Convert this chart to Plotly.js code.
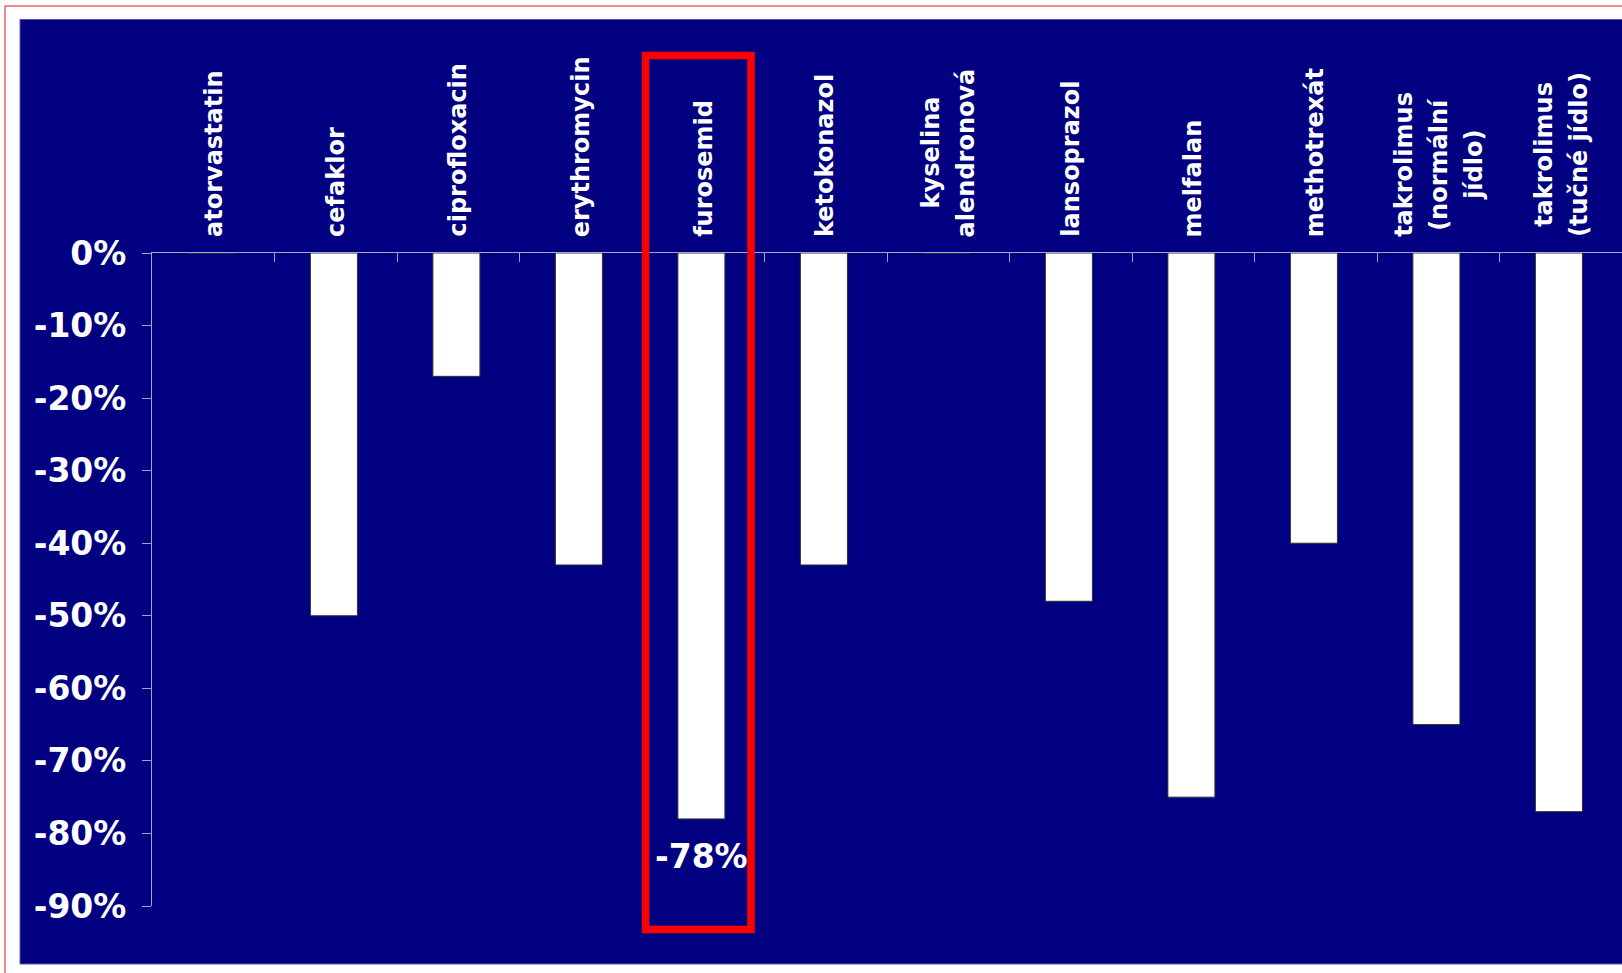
<!DOCTYPE html>
<html>
<head>
<meta charset="utf-8">
<script src="https://cdn.plot.ly/plotly-3.0.1.min.js"></script>
<style>
  html, body { margin: 0; padding: 0; background: #ffffff; }
  #chart { width: 1622px; height: 973px; }
</style>
</head>
<body>
<div id="chart"></div>
<script>
// Drugs and the change in absorption when taken with food (%)
const drugs = [
  'atorvastatin', 'cefaklor', 'ciprofloxacin', 'erythromycin', 'furosemid',
  'ketokonazol', 'kyselina alendronová', 'lansoprazol', 'melfalan',
  'methotrexát', 'takrolimus (normální jídlo)', 'takrolimus (tučné jídlo)'
];
const drugLabelLines = [
  ['atorvastatin'], ['cefaklor'], ['ciprofloxacin'], ['erythromycin'], ['furosemid'],
  ['ketokonazol'], ['kyselina', 'alendronová'], ['lansoprazol'], ['melfalan'],
  ['methotrexát'], ['takrolimus', '(normální', 'jídlo)'], ['takrolimus', '(tučné jídlo)']
];
const changePct = [0, -50, -17, -43, -78, -43, 0, -48, -75, -40, -65, -77];
const yTickValues = [0, -10, -20, -30, -40, -50, -60, -70, -80, -90];
const highlightedDrug = 'furosemid';

const W = 1622, H = 973;
const M = { l: 152, r: 0, t: 253, b: 67 };
const plotW = W - M.l - M.r, plotH = H - M.t - M.b;
// page pixel -> paper fraction helpers for the frame decorations
const px = x => (x - M.l) / plotW;
const py = y => (H - M.b - y) / plotH;

const NAVY = '#000080';
const AXIS = '#a4a4cc';
const FONT = 'DejaVu Sans';

const labelFont = { family: FONT, size: 24, color: '#ffffff', weight: 700 };
const measureCtx = document.createElement('canvas').getContext('2d');
measureCtx.font = `bold ${labelFont.size}px "${FONT}"`;

const annotations = [];
// category names above the zero line, rotated, lines centred on each other
const linePitch = 35;
drugs.forEach((d, i) => {
  const lines = drugLabelLines[i];
  const maxW = Math.max(...lines.map(s => measureCtx.measureText(s).width));
  lines.forEach((s, j) => {
    annotations.push({
      x: d, xref: 'x', y: 1, yref: 'paper',
      text: s, showarrow: false, textangle: -90,
      xanchor: 'center', yanchor: 'middle',
      xshift: (j - (lines.length - 1) / 2) * linePitch,
      yshift: 16 + maxW / 2,
      font: labelFont
    });
  });
});

// value label under the highlighted bar
const hi = drugs.indexOf(highlightedDrug);
annotations.push({
  x: highlightedDrug, xref: 'x', y: changePct[hi], yref: 'y',
  text: changePct[hi] + '%', showarrow: false,
  xanchor: 'center', yanchor: 'top', yshift: -16, xshift: -2,
  font: { family: FONT, size: 33, color: '#ffffff', weight: 700 }
});

const shapes = [
  // page frame
  { type: 'rect', xref: 'paper', yref: 'paper', layer: 'below',
    x0: px(5), x1: px(W + 10), y0: py(H + 10), y1: py(6),
    line: { color: '#e01818', width: 1 }, fillcolor: 'rgba(0,0,0,0)' },
  // navy panel
  { type: 'rect', xref: 'paper', yref: 'paper', layer: 'below',
    x0: px(20), x1: px(W + 10), y0: py(964), y1: py(19.5),
    line: { color: '#5a5aa8', width: 1 }, fillcolor: NAVY },
  // highlight around the furosemid column
  { type: 'rect', xref: 'x', yref: 'paper', layer: 'above',
    x0: hi - 0.471, x1: hi + 0.39, y0: py(929.5), y1: py(55.5),
    line: { color: '#ff0000', width: 7.5 }, fillcolor: 'rgba(0,0,0,0)' }
];

const trace = {
  type: 'bar',
  x: drugs,
  y: changePct,
  width: 0.384,
  offset: -0.207,
  marker: { color: '#ffffff', line: { color: '#303030', width: 1 } },
  hoverinfo: 'skip'
};

const layout = {
  width: W, height: H,
  margin: M,
  paper_bgcolor: '#ffffff',
  plot_bgcolor: NAVY,
  showlegend: false,
  xaxis: {
    type: 'category', side: 'top', range: [-0.5, drugs.length - 0.5],
    showline: true, linecolor: AXIS, linewidth: 1.5,
    ticks: 'inside', ticklen: 9, tickcolor: AXIS, tickwidth: 1, tickson: 'boundaries',
    showticklabels: false, showgrid: false, zeroline: false, fixedrange: true
  },
  yaxis: {
    range: [-90, 0],
    tickvals: yTickValues, ticktext: yTickValues.map(v => v + '%'),
    ticks: 'outside', ticklen: 9, tickcolor: AXIS, tickwidth: 1,
    ticklabelstandoff: 9,
    showline: true, linecolor: AXIS, linewidth: 1,
    showgrid: false, zeroline: false, fixedrange: true,
    tickfont: { family: FONT, size: 33, color: '#ffffff', weight: 700 }
  },
  annotations: annotations,
  shapes: shapes
};

Plotly.newPlot('chart', [trace], layout, { displayModeBar: false, staticPlot: true });
</script>
</body>
</html>
